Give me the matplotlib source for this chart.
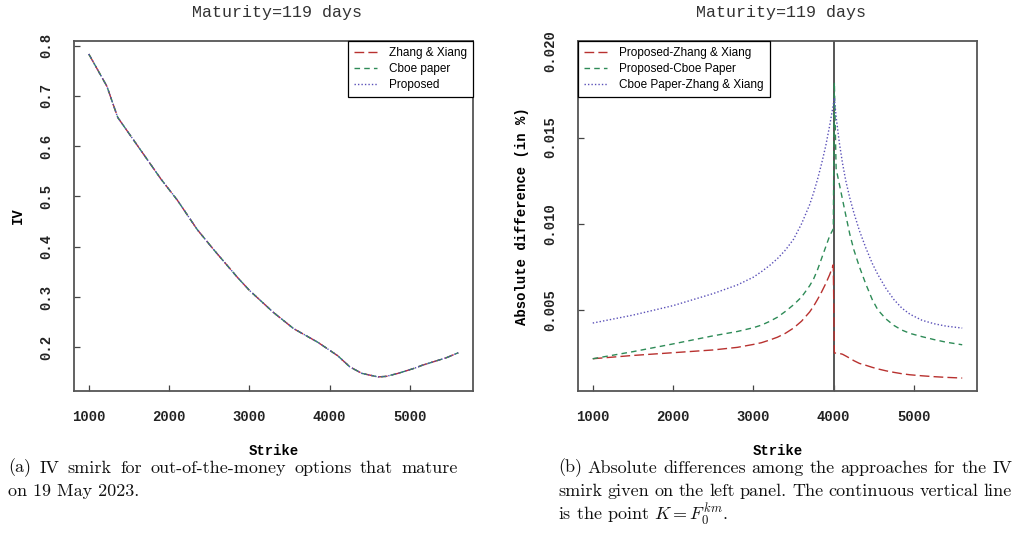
import matplotlib
matplotlib.use("Agg")
import matplotlib.pyplot as plt

plt.rcParams['mathtext.fontset'] = 'cm'

# left panel: IV smirk (the three approaches overlap)
strike_iv = [1000, 1225, 1360, 1900, 2100, 2350, 2550, 2850, 3000, 3300, 3550,
             3850, 4100, 4250, 4400, 4600, 4700, 4850, 5050, 5150, 5350, 5450, 5600]
iv_zhang = [0.783, 0.719, 0.657, 0.534, 0.493, 0.434, 0.395, 0.339, 0.313, 0.269, 0.237,
            0.210, 0.183, 0.161, 0.148, 0.141, 0.142, 0.148, 0.158, 0.164, 0.174, 0.179, 0.189]
iv_cboe = list(iv_zhang)
iv_proposed = list(iv_zhang)

# right panel: absolute differences
F0 = 4008
strike_diff = [1000, 1500, 2000, 2500, 2800, 3000, 3100, 3200, 3300, 3400, 3500, 3600,
               3700, 3750, 3800, 3850, 3900, 3950, 3995, F0, 4030, 4070, 4110, 4150,
               4200, 4250, 4320, 4400, 4480, 4550, 4650, 4750, 4850, 4950, 5100, 5250,
               5400, 5600]
diff_prop_zhang = [0.00217, 0.00236, 0.00252, 0.00268, 0.00283, 0.00300, 0.00310, 0.00325,
                   0.00342, 0.00365, 0.00395, 0.00435, 0.00488, 0.00522, 0.00562, 0.00605,
                   0.00652, 0.00705, 0.00762, 0.00250, 0.00250, 0.00248, 0.00243, 0.00233,
                   0.00220, 0.00206, 0.00190, 0.00179, 0.00167, 0.00158, 0.00147, 0.00138,
                   0.00130, 0.00124, 0.00118, 0.00113, 0.00109, 0.00105]
diff_prop_cboe = [0.00217, 0.00258, 0.00303, 0.00350, 0.00375, 0.00397, 0.00412, 0.00433,
                  0.00458, 0.00492, 0.00530, 0.00575, 0.00640, 0.00680, 0.00735, 0.00800,
                  0.00865, 0.00930, 0.00970, 0.01820, 0.01320, 0.01230, 0.01140, 0.01050,
                  0.00940, 0.00850, 0.00750, 0.00650, 0.00560, 0.00500, 0.00448, 0.00410,
                  0.00383, 0.00364, 0.00345, 0.00328, 0.00313, 0.00298]
diff_cboe_zhang = [0.00424, 0.00470, 0.00525, 0.00595, 0.00645, 0.00690, 0.00722, 0.00757,
                   0.00798, 0.00848, 0.00910, 0.01000, 0.01110, 0.01180, 0.01260, 0.01350,
                   0.01450, 0.01570, 0.01690, 0.01730, 0.01620, 0.01470, 0.01350, 0.01250,
                   0.01150, 0.01065, 0.00960, 0.00860, 0.00770, 0.00705, 0.00625, 0.00560,
                   0.00510, 0.00475, 0.00440, 0.00420, 0.00406, 0.00395]

x_ticks = [1000, 2000, 3000, 4000, 5000]
iv_ticks = [0.2, 0.3, 0.4, 0.5, 0.6, 0.7, 0.8]
diff_ticks = [0.005, 0.010, 0.015, 0.020]

red = '#B8312F'
green = '#2E8B57'
blue = '#5A50B8'
mono = 'Liberation Mono'

fig = plt.figure(figsize=(10.14, 5.56), dpi=100)
axL = fig.add_axes([0.0730, 0.2968, 0.3935, 0.6295])
axR = fig.add_axes([0.5700, 0.2968, 0.3935, 0.6295])

axL.plot(strike_iv, iv_zhang, color=red, ls=(0, (7, 3)), lw=1.0, label='Zhang & Xiang')
axL.plot(strike_iv, iv_cboe, color=green, ls=(0, (4, 3)), lw=1.0, label='Cboe paper')
axL.plot(strike_iv, iv_proposed, color=blue, ls=(0, (1, 1.5)), lw=1.0, label='Proposed')
axL.set_xlim(816, 5784)
axL.set_ylim(0.113, 0.809)
axL.set_yticks(iv_ticks)
axL.set_yticklabels(['0.2', '0.3', '0.4', '0.5', '0.6', '0.7', '0.8'])
axL.set_ylabel('IV')

axR.axvline(F0, color='#555555', lw=1.4)
axR.plot(strike_diff, diff_prop_zhang, color=red, ls=(0, (7, 3)), lw=1.0,
         label='Proposed-Zhang & Xiang')
axR.plot(strike_diff, diff_prop_cboe, color=green, ls=(0, (4, 3)), lw=1.0,
         label='Proposed-Cboe Paper')
axR.plot(strike_diff, diff_cboe_zhang, color=blue, ls=(0, (1, 1.5)), lw=1.0,
         label='Cboe Paper-Zhang & Xiang')
axR.set_xlim(816, 5784)
axR.set_ylim(0.0003, 0.0206)
axR.set_yticks(diff_ticks)
axR.set_yticklabels(['0.005', '0.010', '0.015', '0.020'])
axR.set_ylabel('Absolute difference (in %)')

for ax in (axL, axR):
    ax.set_xticks(x_ticks)
    ax.set_xticklabels([str(t) for t in x_ticks])
    ax.set_xlabel('Strike')
    for s in ax.spines.values():
        s.set_color('#555555')
        s.set_linewidth(1.3)
    ax.tick_params(axis='both', direction='in', length=4, width=0.9, color='#444444')
    ax.tick_params(axis='x', pad=14)
    ax.tick_params(axis='y', pad=15, labelrotation=90)
    for lab in ax.get_xticklabels() + ax.get_yticklabels():
        lab.set_fontfamily(mono)
        lab.set_fontweight('bold')
        lab.set_fontsize(10)
        lab.set_color('#222222')
    for lab in ax.get_yticklabels():
        lab.set_va('center')
    ax.xaxis.label.set_fontfamily(mono)
    ax.xaxis.label.set_fontweight('bold')
    ax.xaxis.label.set_fontsize(10)
    ax.xaxis.label.set_va('center')
    ax.xaxis.set_label_coords(0.5, -0.171)
    ax.yaxis.label.set_fontfamily(mono)
    ax.yaxis.label.set_fontweight('bold')
    ax.yaxis.label.set_fontsize(10)
    ax.yaxis.label.set_va('center')
    ax.yaxis.set_label_coords(-0.140, 0.5)

legL = axL.legend(loc='upper right', borderaxespad=0, fancybox=False, framealpha=1,
                  edgecolor='black', handlelength=2.0, handletextpad=1.0, labelspacing=0.35,
                  borderpad=0.5, prop={'family': 'Liberation Sans', 'size': 8.5})
legR = axR.legend(loc='upper left', borderaxespad=0, fancybox=False, framealpha=1,
                  edgecolor='black', handlelength=2.0, handletextpad=1.0, labelspacing=0.35,
                  borderpad=0.5, prop={'family': 'Liberation Sans', 'size': 8.5})
for leg in (legL, legR):
    leg.get_frame().set_linewidth(0.9)

fig.text(0.273, 0.977, 'Maturity=119 days', ha='center', va='center',
         family=mono, fontsize=12, color='#333333')
fig.text(0.770, 0.977, 'Maturity=119 days', ha='center', va='center',
         family=mono, fontsize=12, color='#333333')

cap_font = dict(family='cmr10', fontsize=13, color='#111111')


def justified(line, x0, x1, y):
    # place words so the line fills x0..x1 (figure pixels)
    words = line.split(' ')
    renderer = fig.canvas.get_renderer()
    items = []
    total = 0
    for w in words:
        t = fig.text(0, 1 - y / 556, w, ha='left', va='center', **cap_font)
        wd = t.get_window_extent(renderer).width
        items.append((t, wd))
        total += wd
    gap = (x1 - x0 - total) / (len(words) - 1)
    x = x0
    for t, wd in items:
        t.set_x(x / 1014)
        x += wd + gap


justified('(a) IV smirk for out-of-the-money options that mature', 8, 458, 468)
fig.text(8 / 1014, 1 - 491 / 556, 'on 19 May 2023.', ha='left', va='center', **cap_font)
justified('(b) Absolute differences among the approaches for the IV', 558, 1012, 468)
justified('smirk given on the left panel. The continuous vertical line', 558, 1012, 491)
fig.text(558 / 1014, 1 - 514 / 556, r'is the point $K = F_0^{km}$.', ha='left', va='center',
         **cap_font)

fig.savefig('out.png', dpi=100)
